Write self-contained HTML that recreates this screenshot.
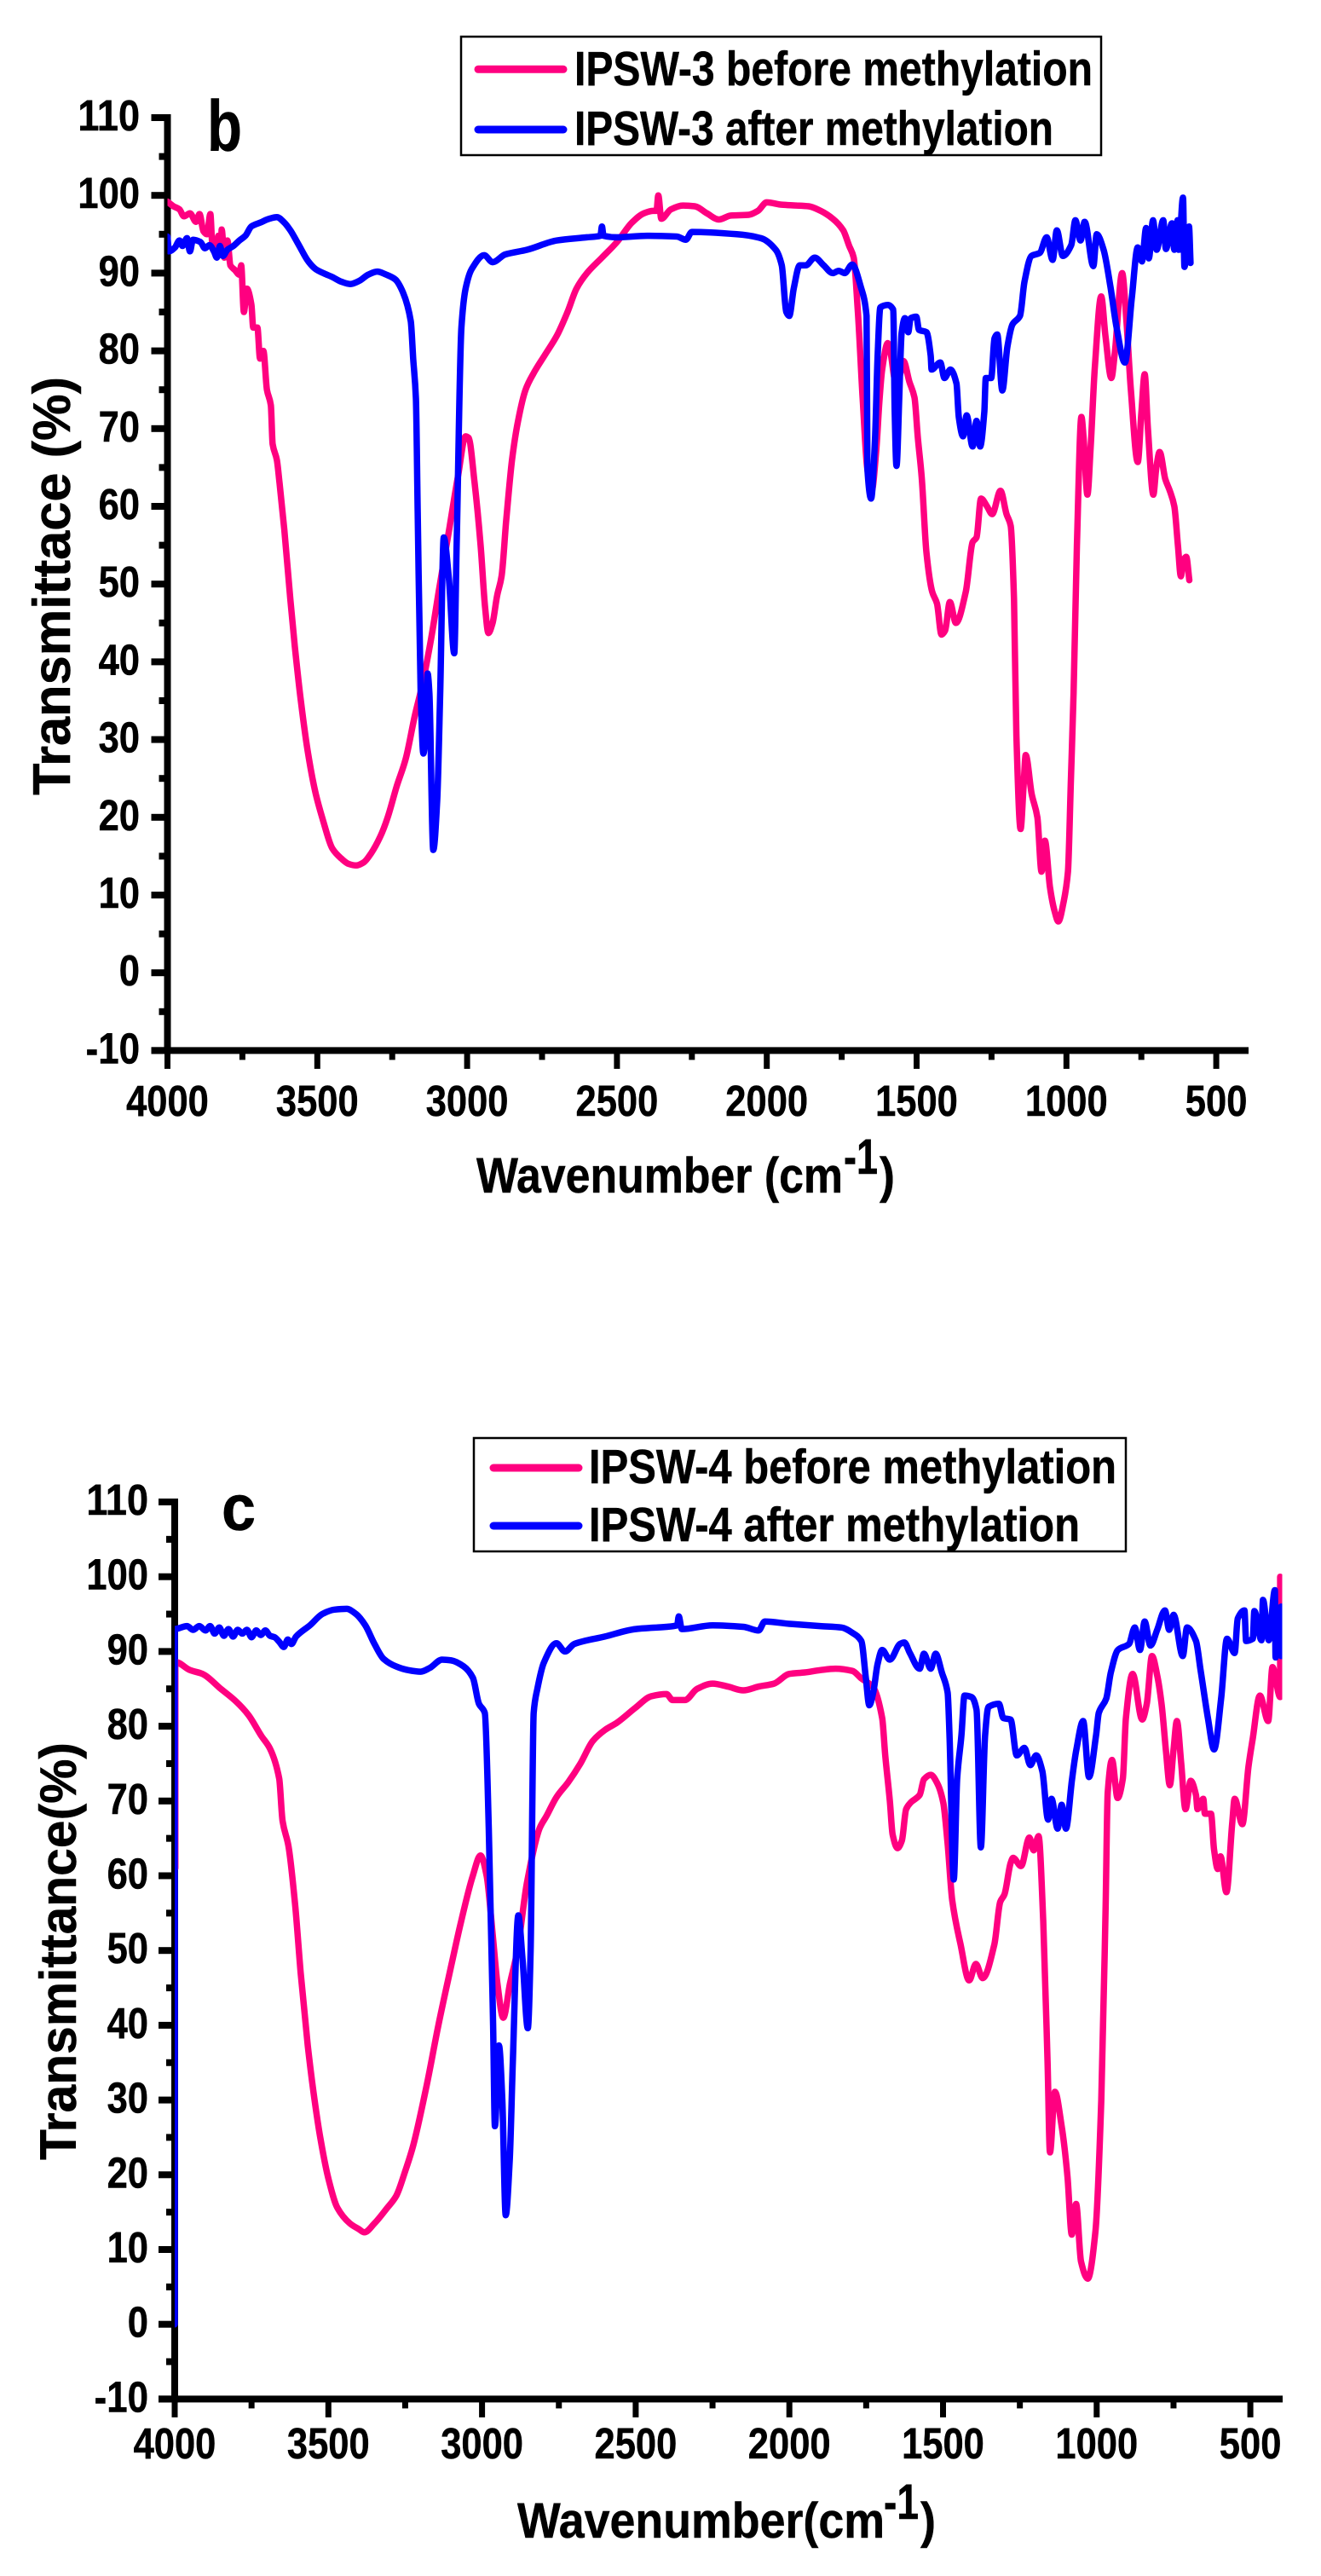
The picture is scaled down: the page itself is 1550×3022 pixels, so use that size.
<!DOCTYPE html>
<html lang="en">
<head>
<meta charset="utf-8">
<title>FTIR spectra of IPSW-3 and IPSW-4 before and after methylation</title>
<style>
html,body{margin:0;padding:0;background:#fff;}
svg{display:block;}
text{font-family:"Liberation Sans",Arial,sans-serif;font-weight:bold;fill:#000;stroke:#000;stroke-width:0.5px;}
</style>
</head>
<body>
<svg id="figure" xmlns="http://www.w3.org/2000/svg" width="1550" height="3022" viewBox="0 0 1550 3022">
  <rect x="0" y="0" width="1550" height="3022" fill="#fff"/>
  <g id="chartB">
    <text x="243" y="177" font-size="84" textLength="41" lengthAdjust="spacingAndGlyphs">b</text>
    <text transform="translate(82,933) rotate(-90)" font-size="62" textLength="491" lengthAdjust="spacingAndGlyphs">Transmittace (%)</text>
    <text x="559" y="1399" font-size="58" textLength="430" lengthAdjust="spacingAndGlyphs">Wavenumber (cm</text>
    <text x="990" y="1377" font-size="58" textLength="40" lengthAdjust="spacingAndGlyphs">-1</text>
    <text x="1032" y="1399" font-size="58" textLength="18" lengthAdjust="spacingAndGlyphs">)</text>
    <g>
      <rect x="541" y="43" width="751" height="139" fill="#fff" stroke="#000" stroke-width="2.5"/>
      <line x1="561" y1="81.3" x2="661" y2="81.3" stroke="#ff0080" stroke-width="9" stroke-linecap="round"/>
      <text x="674" y="100" font-size="57" textLength="608" lengthAdjust="spacingAndGlyphs">IPSW-3 before methylation</text>
      <line x1="561" y1="152" x2="661" y2="152" stroke="#0000ff" stroke-width="9" stroke-linecap="round"/>
      <text x="674" y="170" font-size="57" textLength="562" lengthAdjust="spacingAndGlyphs">IPSW-3 after methylation</text>
    </g>
  </g>
  <g id="chartC">
    <text x="260" y="1795" font-size="76" textLength="40" lengthAdjust="spacingAndGlyphs">c</text>
    <text transform="translate(89,2534) rotate(-90)" font-size="60" textLength="490" lengthAdjust="spacingAndGlyphs">Transmittance(%)</text>
    <text x="607" y="2977" font-size="58" textLength="431" lengthAdjust="spacingAndGlyphs">Wavenumber(cm</text>
    <text x="1037" y="2955" font-size="58" textLength="41" lengthAdjust="spacingAndGlyphs">-1</text>
    <text x="1080" y="2977" font-size="58" textLength="18" lengthAdjust="spacingAndGlyphs">)</text>
    <g>
      <rect x="556" y="1687" width="765" height="133" fill="#fff" stroke="#000" stroke-width="2.5"/>
      <line x1="579" y1="1722" x2="679" y2="1722" stroke="#ff0080" stroke-width="9" stroke-linecap="round"/>
      <text x="691" y="1740" font-size="57" textLength="619" lengthAdjust="spacingAndGlyphs">IPSW-4 before methylation</text>
      <line x1="579" y1="1790" x2="679" y2="1790" stroke="#0000ff" stroke-width="9" stroke-linecap="round"/>
      <text x="691" y="1808" font-size="57" textLength="576" lengthAdjust="spacingAndGlyphs">IPSW-4 after methylation</text>
    </g>
  </g>
</svg>
<script>
const yTickValues = [-10, 0, 10, 20, 30, 40, 50, 60, 70, 80, 90, 100, 110];
const xTickValues = [4000, 3500, 3000, 2500, 2000, 1500, 1000, 500];

const bBeforeWn = [4000,3980,3960,3945,3925,3905,3893,3880,3868,3857,3850,3838,3830,3822,3819,3810,3800,3790,3775,3760,3754,3745,3735,3720,3714,3700,3691,3680,3668,3655,3649,3635,3626,3610,3590,3575,3555,3530,3505,3480,
3450,3420,3395,3370,3345,3320,3290,3265,3235,3205,3175,3150,3120,3095,3060,3030,3005,2995,2975,2955,2940,2929,2915,2900,2885,2870,2850,2830,2805,2780,
2740,2700,2665,2635,2600,2550,2500,2450,2410,2380,2368,2362,2352,2320,2280,2240,2200,2160,2120,2060,2030,2000,1950,1900,1860,1820,1780,1745,1725,1710,
1696,1680,1665,1650,1635,1624,1615,1596,1587,1570,1555,1544,1524,1507,1496,1483,1467,1448,1432,1417,1405,1389,1369,1336,1313,1300,1285,1265,1248,1220,1200,1186,
1175,1167,1153,1143,1136,1116,1097,1083,1072,1055,1040,1027,1010,995,985,976,965,950,943,930,920,905,884,870,850,838,814,800,785,762,
750,739,728,710,700,689,670,655,640,628,618,610,600,590];
const bBeforeT = [99.2,98.6,98.2,97.3,97.7,96.6,97.6,95.4,95,97.6,93.6,93,94.8,92.5,95.6,92,94.2,91,90.4,89.8,91,85,88,86,83,83,79,80,75,73,68,66,63,57,48,42,35,28,23,19.5,
16,14.7,14,13.8,14.2,15.4,17.5,20,24,27.5,33,37,43,49,57,64,69,68.8,63,55,47,43.7,45,48.5,51,58,66,71,75,77,
79.5,82,85,88,90,92,94,96.5,97.7,98,98,100,97,98.2,98.7,98.6,97.7,96.9,97.4,97.5,98,99.1,98.8,98.7,98.6,98,97,95.5,93.5,92,
85,73.9,65,62,67,73.6,77.6,81,79.8,76,77,78.7,76,74,68.9,63.7,54,49,47.5,43.5,44,47.7,45,49,55.4,56,61,60,59,62,59,57.5,
48,30.5,18.5,24,28,23,20,13,17,11,8,6.6,9,13,25,36,55,71.5,69,61.5,67,78,87,82,76.5,80,90,84,75,65.7,
72,77,70,61.5,65,67,63.5,62,60,55,51,53,53.5,50.5];

const bAfterWn = [4000,3995,3975,3960,3950,3935,3925,3915,3890,3875,3860,3845,3835,3825,3815,3800,3780,3760,3740,3720,3690,3660,3635,3610,3590,3560,3530,3505,3480,3450,3420,3390,3360,3330,3300,3270,3240,3214,3188,3180,
3171,3165,3155,3146,3140,3132,3126,3113,3100,3090,3078,3061,3043,3035,3019,3005,2985,2943,2915,2873,2800,2700,2600,2555,2550,2545,2500,2400,2300,2270,
2250,2100,2020,1970,1950,1935,1925,1910,1890,1870,1840,1810,1780,1760,1740,1715,1686,1667,1664,1652,1639,1630,1621,1596,1578,1573,1567,1558,1550,1539,
1528,1520,1501,1492,1467,1453,1450,1421,1407,1387,1367,1359,1345,1333,1313,1300,1288,1274,1269,1251,1240,1231,1214,1197,1180,1155,1140,1117,1089,1066,
1046,1032,1012,984,970,953,939,910,899,876,853,833,805,782,762,748,734,725,711,699,677,668,648,640,629,625,611,606,591,586];
const bAfterT = [94.7,92.8,93.3,94.2,93.5,94.5,92.8,94.3,94,93.2,93.6,92.8,92,93.5,92.2,93,93.5,94.2,94.8,96,96.5,97,97.2,96.5,95.5,93.5,91.5,90.5,90,89.5,88.9,88.6,89,89.8,90.2,89.8,89.2,87.5,83.8,79,
73.9,59.3,36,28.2,30,38.5,36,15.8,22,36,56,50.7,41.1,55,83,88,90.5,92.3,91.4,92.4,93,94.2,94.6,94.8,96,94.8,94.6,94.8,94.7,94.3,
95.3,95,94.5,93,91,85,84.5,88,91,91,92,91,90,90.3,90,91.1,88.2,84.5,64.8,61,68.4,79.4,85.6,85.9,85.3,72.2,65.2,73.9,82.3,84.2,
82.4,84.2,84.4,82.7,82.4,79.4,77.6,78.5,76.5,77.6,75.8,71.4,69,71.7,67.7,71,67.7,72.2,76.5,76.5,81.6,82.1,74.9,80.5,83.4,84.5,88.9,92.2,92.6,94.6,
91.7,95.5,92.2,93.6,96.8,94.2,96.6,90.9,95,93,88.2,83.1,78.5,86.7,93.3,91.5,95.8,91.9,96.8,93,96.8,93.1,96.4,93,96.8,93,99.7,90.8,96,91.3];

const cBeforeWn = [3998,3998,3950,3910,3850,3800,3760,3718,3690,3660,3649,3630,3608,3590,3567,3545,3526,3500,3471,3430,3400,3383,3350,3310,3279,3250,3224,3180,3142,3100,3068,3030,3005,2985,2965,2950,2931,2909,2885,2854,
2813,2790,2758,2720,2680,2640,2600,2560,2500,2450,2400,2380,2340,2300,2250,2200,2150,2100,2050,2000,1950,1900,1850,1795,1766,1727,1698,1688,1673,1664,
1648,1634,1620,1605,1576,1562,1540,1518,1499,1485,1470,1443,1415,1393,1371,1333,1314,1300,1280,1272,1246,1219,1205,1189,1174,1160,1152,1136,1114,1095,
1081,1067,1051,1029,1004,985,971,964,950,932,915,905,883,852,837,820,803,789,775,762,750,739,725,711,694,677,672,653,648,628,
618,606,597,578,559,551,526,506,492,469,442,428,403,403];
const cBeforeT = [61,88.6,87.5,87,85,83.3,81.5,78.7,77,73,67.3,64,56,47,37.3,30,24.9,19.5,15.6,13.5,12.7,12.3,13.5,15.5,17.2,20.5,23.9,32,40,48,53.9,60,62.7,60,52,45.6,41,45.6,50,59,
66.3,68,70.5,72.5,75,78,79.5,80.5,82.5,84,84.3,83.5,83.5,85,85.7,85.3,84.8,85.3,85.7,87,87.2,87.5,87.7,87.4,86.4,85.2,81.1,76.1,70,65.5,
63.7,64.7,68.9,69.8,70.8,72.9,73.5,72.3,69.7,64.3,56.7,50.8,46,48.2,46.3,50.8,56.5,57.5,61.7,62.4,61.3,65.1,63.4,65.3,53.9,35.3,23,31.1,26.5,19.8,
12,16.1,8.4,6.1,12.5,30,55.9,71.2,75.5,70.4,73,81.1,87,80.9,83,89.4,86.8,83,76.9,72.1,76.9,80.7,75,68.9,72.7,70.8,68.9,70.3,68.3,68.3,
63.5,60.9,62.6,57.8,67,70.3,66.9,74.6,78.4,84.1,80.7,87.9,83.9,100];

const cAfterWn = [4000,4000,3960,3940,3920,3900,3885,3870,3855,3840,3825,3810,3795,3780,3765,3750,3735,3720,3705,3690,3675,3660,3645,3632,3620,3605,3560,3520,3480,3440,3410,3380,3350,3320,3280,3240,3200,3170,3130,3100,3060,3030,3010,2991,2978,2964,2958,2945,2934,2923,2910,2900,2882,2868,2851,
2842,2832,2820,2799,2758,2730,2700,2600,2500,2400,2365,2360,2350,2250,2150,2100,2080,2000,1900,1830,1795,1766,1751,1740,1727,1713,1698,1673,1640,1626,
1608,1576,1562,1540,1524,1504,1485,1479,1465,1454,1440,1430,1407,1391,1377,1363,1352,1318,1304,1280,1260,1235,1216,1197,1177,1158,1147,1127,1114,1100,
1080,1066,1044,1025,1002,993,969,954,931,895,876,859,844,825,803,778,764,750,720,706,677,662,638,618,595,576,551,541,519,514,
492,487,464,459,440,420,418,400,400];
const cAfterT = [0,93,93.4,92.9,93.4,92.8,93.4,92.4,93.2,92.1,93,92,92.9,92.4,92.9,91.9,92.8,92.2,92.8,92.1,91.9,91.3,90.6,91.6,91,92,93.5,95,95.6,95.7,95,93.5,91,89,88,87.5,87.3,87.8,88.9,88.8,88,86.5,83,81.8,66.3,40,26.5,37.3,30,14.6,22,35,54.7,48.7,39.6,
50,81.8,85,88.5,91.1,90,91,92,93,93.3,93.5,94.7,93,93.5,93.3,92.8,94,93.7,93.4,93.2,92.5,91.4,86.4,82.8,84.5,88.3,90.2,88.9,91,91.2,
89.8,87.7,89.7,87.7,89.7,87.2,84.5,78.8,59.5,73,78.8,84.1,83.9,82.2,63.8,78.8,82.6,83,81.1,80.9,76.1,77.1,74.8,76.1,74,67.5,70.3,66.3,69.5,66.3,
73,76.9,80.7,73.2,78.8,81.8,83.7,87.2,90.2,91,93.2,90.2,94,90.8,92.9,95.5,92.9,94.9,89.4,93.2,91.4,87.5,81.1,76.9,83.7,91.7,89.8,94.4,95.5,91.4,
91.7,95.4,91.5,96.9,91.5,98.2,89.2,96,89.4];

const svgNS = 'http://www.w3.org/2000/svg';

function makeAxes(x4000, xPer500, y110, yPer10) {
  return {
    x: function (wn) { return x4000 + (4000 - wn) / 500 * xPer500; },
    y: function (t) { return y110 + (110 - t) / 10 * yPer10; }
  };
}

function smoothPath(xs, ys) {
  const n = xs.length;
  const m = [];
  for (let i = 0; i < n - 1; i++) {
    const dx = xs[i + 1] - xs[i];
    m.push(dx > 0.001 ? (ys[i + 1] - ys[i]) / dx : 0);
  }
  const tan = [];
  for (let i = 0; i < n; i++) {
    if (i === 0) { tan.push(m[0]); }
    else if (i === n - 1) { tan.push(m[n - 2]); }
    else if (m[i - 1] * m[i] <= 0) { tan.push(0); }
    else { tan.push(2 * m[i - 1] * m[i] / (m[i - 1] + m[i])); }
  }
  let d = 'M' + xs[0].toFixed(1) + ' ' + ys[0].toFixed(1);
  for (let i = 0; i < n - 1; i++) {
    const dx = xs[i + 1] - xs[i];
    if (dx <= 0.001) {
      d += 'L' + xs[i + 1].toFixed(1) + ' ' + ys[i + 1].toFixed(1);
    } else {
      d += 'C' + (xs[i] + dx / 3).toFixed(1) + ' ' + (ys[i] + tan[i] * dx / 3).toFixed(1) + ' ' +
        (xs[i + 1] - dx / 3).toFixed(1) + ' ' + (ys[i + 1] - tan[i + 1] * dx / 3).toFixed(1) + ' ' +
        xs[i + 1].toFixed(1) + ' ' + ys[i + 1].toFixed(1);
    }
  }
  return d;
}

function drawSeries(group, axes, wn, t, color, name) {
  const path = document.createElementNS(svgNS, 'path');
  path.setAttribute('d', smoothPath(wn.map(axes.x), t.map(axes.y)));
  path.setAttribute('fill', 'none');
  path.setAttribute('stroke', color);
  path.setAttribute('stroke-width', '7.5');
  path.setAttribute('stroke-linejoin', 'round');
  path.setAttribute('stroke-linecap', 'round');
  
  
  group.appendChild(path);
}

function addPlotClip(group, id, x, width) {
  const clip = document.createElementNS(svgNS, 'clipPath');
  clip.setAttribute('id', id);
  const r = document.createElementNS(svgNS, 'rect');
  r.setAttribute('x', x);
  r.setAttribute('y', 0);
  r.setAttribute('width', width);
  r.setAttribute('height', 3022);
  clip.appendChild(r);
  group.appendChild(clip);
  const g = document.createElementNS(svgNS, 'g');
  g.setAttribute('clip-path', 'url(#' + id + ')');
  
  
  group.appendChild(g);
  return g;
}

function addRect(group, x, y, w, h, name) {
  const r = document.createElementNS(svgNS, 'rect');
  r.setAttribute('x', x);
  r.setAttribute('y', y);
  r.setAttribute('width', w);
  r.setAttribute('height', h);
  r.setAttribute('fill', '#000');
  
  
  group.appendChild(r);
}

function addLabel(group, x, y, str, anchor, len, name) {
  const t = document.createElementNS(svgNS, 'text');
  t.setAttribute('x', x);
  t.setAttribute('y', y);
  t.setAttribute('font-size', '51');
  t.setAttribute('text-anchor', anchor);
  t.setAttribute('textLength', len);
  t.setAttribute('lengthAdjust', 'spacingAndGlyphs');
  
  
  t.textContent = str;
  group.appendChild(t);
}

function drawAxes(group, axes, xEnd, yLabelRight, xLabelBaseline, suffix) {
  const x0 = axes.x(4000);
  const yB = axes.y(-10);
  const yT = axes.y(110);
  addRect(group, x0 - 4, yT - 4, 8, yB - yT + 8, 'y-axis-line-' + suffix);
  addRect(group, x0 - 19, yB - 4, xEnd - x0 + 19, 8, 'x-axis-line-' + suffix);
  yTickValues.forEach(function (v) {
    const y = axes.y(v);
    addRect(group, x0 - 19, y - 4, 15, 8, 'y-tick-' + suffix);
    const s = String(v);
    addLabel(group, yLabelRight, y + 15, s, 'end', s.replace('-', '').length * 24.2 + (v < 0 ? 15 : 0), 'y-tick-label-' + suffix);
    if (v < 110) {
      addRect(group, x0 - 10, axes.y(v + 5) - 4, 6, 8, 'y-minor-tick-' + suffix);
    }
  });
  xTickValues.forEach(function (v) {
    const x = axes.x(v);
    addRect(group, x - 3.5, yB, 7, 21.5, 'x-tick-' + suffix);
    const s = String(v);
    addLabel(group, x, xLabelBaseline, s, 'middle', s.length * 24.2, 'x-tick-label-' + suffix);
    if (v > 500) {
      addRect(group, axes.x(v - 250) - 3.5, yB, 7, 11, 'x-minor-tick-' + suffix);
    }
  });
}

const axesB = makeAxes(196.5, 175.8, 138, 91.2);
const axesC = makeAxes(205, 180.3, 1762, 87.7);
const groupB = document.getElementById('chartB');
const groupC = document.getElementById('chartC');

drawAxes(groupB, axesB, 1465, 164, 1309, 'b');
const plotB = addPlotClip(groupB, 'clip-b', 196.5, 1300);
drawSeries(plotB, axesB, bBeforeWn, bBeforeT, '#ff0080', 'series-ipsw3-before');
drawSeries(plotB, axesB, bAfterWn, bAfterT, '#0000ff', 'series-ipsw3-after');

drawAxes(groupC, axesC, 1505, 174, 2884, 'c');
const plotC = addPlotClip(groupC, 'clip-c', 205, 1299.5);
drawSeries(plotC, axesC, cBeforeWn, cBeforeT, '#ff0080', 'series-ipsw4-before');
drawSeries(plotC, axesC, cAfterWn, cAfterT, '#0000ff', 'series-ipsw4-after');
</script>
</body>
</html>
